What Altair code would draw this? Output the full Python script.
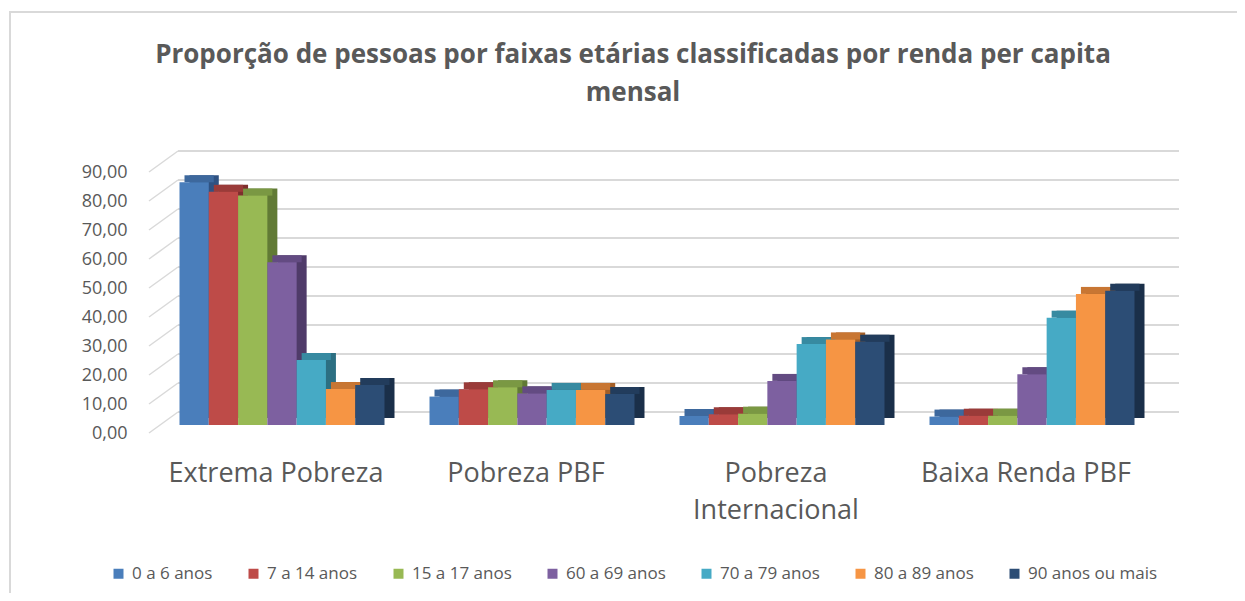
import altair as alt
import pandas as pd

categories = ["Extrema Pobreza", "Pobreza PBF", "Pobreza Internacional", "Baixa Renda PBF"]
series = ["0 a 6 anos", "7 a 14 anos", "15 a 17 anos", "60 a 69 anos",
          "70 a 79 anos", "80 a 89 anos", "90 anos ou mais"]

v_0_6 = [83.7, 9.8, 3.1, 2.9]
v_7_14 = [80.4, 12.3, 3.7, 3.2]
v_15_17 = [79.1, 13.0, 3.9, 3.2]
v_60_69 = [56.1, 10.9, 15.2, 17.5]
v_70_79 = [22.4, 12.1, 27.9, 37.0]
v_80_89 = [12.4, 12.1, 29.5, 45.2]
v_90 = [13.8, 10.7, 28.7, 46.3]

tick_values = [0, 10, 20, 30, 40, 50, 60, 70, 80, 90]

title_line1 = "Proporção de pessoas por faixas etárias classificadas por renda per capita"
title_line2 = "mensal"

front_colors = ["#4A7EBB", "#BE4B48", "#98B954", "#7D60A0", "#46AAC5", "#F69544", "#2C4D75"]
top_colors = ["#3D689D", "#9A3B39", "#7A9843", "#634B82", "#378AA1", "#C87633", "#223C5C"]
side_colors = ["#2F5282", "#7E2F2E", "#617A35", "#4F3B69", "#2C6F82", "#A45F27", "#1A2F49"]

all_vals = [v_0_6, v_7_14, v_15_17, v_60_69, v_70_79, v_80_89, v_90]
rows = []
for s, vals in zip(series, all_vals):
    for c, v in zip(categories, vals):
        rows.append({"categoria": c, "serie": s, "valor": v})
df = pd.DataFrame(rows)

grid_df = pd.DataFrame({"v": tick_values})
grid_df["yt"] = grid_df["v"] + 4.48
grid_df["yb"] = grid_df["v"] - 2.76

W, H = 1016, 261
BW = 205  # band width of each category group
yscale = alt.Scale(domain=[0, 90], nice=False, zero=True)

yaxis = alt.Axis(title=None, values=tick_values, domain=False, ticks=False, grid=False,
                 labelFontSize=18, labelFont="Open Sans", labelColor="#595959",
                 labelPadding=22, labelOffset=8,
                 labelExpr="replace(format(datum.value, '.2f'), '.', ',')")

xenc = alt.X("categoria:N", sort=categories,
             scale=alt.Scale(paddingInner=0.18, paddingOuter=0.122),
             axis=alt.Axis(title=None, domain=False, ticks=False, labelFontSize=27,
                           labelFont="Open Sans", labelColor="#595959", labelPadding=35,
                           labelAngle=0, labelLimit=400, labelBaseline="top",
                           labelLineHeight=37, labelOffset=-6,
                           labelExpr="datum.label == 'Pobreza Internacional' ? ['Pobreza', 'Internacional'] : datum.label"))


def xoff(shift):
    return alt.XOffset("serie:N", sort=series,
                       scale=alt.Scale(paddingInner=0, paddingOuter=0, range=[shift, shift + BW]))


base = alt.Chart(df)

side = base.mark_bar(yOffset=-7, y2Offset=-7).encode(
    x=xenc, xOffset=xoff(10),
    y=alt.Y("valor:Q", scale=yscale, axis=yaxis),
    color=alt.Color("serie:N", sort=series, scale=alt.Scale(domain=series, range=side_colors), legend=None),
)
top = base.mark_bar(yOffset=-7).encode(
    x=xenc, xOffset=xoff(5),
    y=alt.Y("valor:Q", scale=yscale, axis=yaxis),
    y2=alt.Y2("valor:Q"),
    color=alt.Color("serie:N", sort=series, scale=alt.Scale(domain=series, range=top_colors), legend=None),
)
front = base.mark_bar().encode(
    x=xenc, xOffset=xoff(0),
    y=alt.Y("valor:Q", scale=yscale, axis=yaxis),
    color=alt.Color("serie:N", sort=series,
                    scale=alt.Scale(domain=series, range=front_colors),
                    legend=alt.Legend(title=None, orient="none", legendX=-39, legendY=401,
                                      direction="horizontal", symbolType="square", symbolSize=100,
                                      symbolStrokeWidth=0, labelFontSize=17, labelFont="Open Sans",
                                      labelColor="#595959", labelOffset=5, columnPadding=32)),
)

gridh = alt.Chart(grid_df).mark_rule(color="#D9D9D9", strokeWidth=2).encode(
    x=alt.value(29), x2=alt.value(1030),
    y=alt.Y("yt:Q", scale=yscale, axis=yaxis),
)
gridd = alt.Chart(grid_df).mark_rule(color="#D9D9D9", strokeWidth=1.5).encode(
    x=alt.value(0), x2=alt.value(29),
    y=alt.Y("yb:Q", scale=yscale, axis=yaxis),
    y2=alt.Y2("yt:Q"),
)

one = pd.DataFrame({"a": [0]})
border = alt.Chart(one).mark_rect(
    fillOpacity=0, stroke="#D9D9D9", strokeWidth=2).encode(
    x=alt.value(-139), x2=alt.value(1100), y=alt.value(-152), y2=alt.value(600))

title_style = dict(font="Open Sans", fontSize=26, fontWeight="bold", color="#595959",
                   align="center", baseline="middle")
t1 = alt.Chart(one).mark_text(**title_style).encode(
    text=alt.value(title_line1), x=alt.value(484), y=alt.value(-109))
t2 = alt.Chart(one).mark_text(**title_style).encode(
    text=alt.value(title_line2), x=alt.value(484), y=alt.value(-71))

chart = alt.layer(border, t1, t2, gridh, gridd, side, top, front).resolve_scale(
    color="independent", xOffset="independent"
).properties(
    width=W, height=H,
    padding={"left": 141, "top": 156, "right": 72, "bottom": 168},
    autosize=alt.AutoSizeParams(type="none"),
    background="white",
).configure_view(stroke=None)

chart.save("out.html", embed_options={"renderer": "svg", "actions": False})
